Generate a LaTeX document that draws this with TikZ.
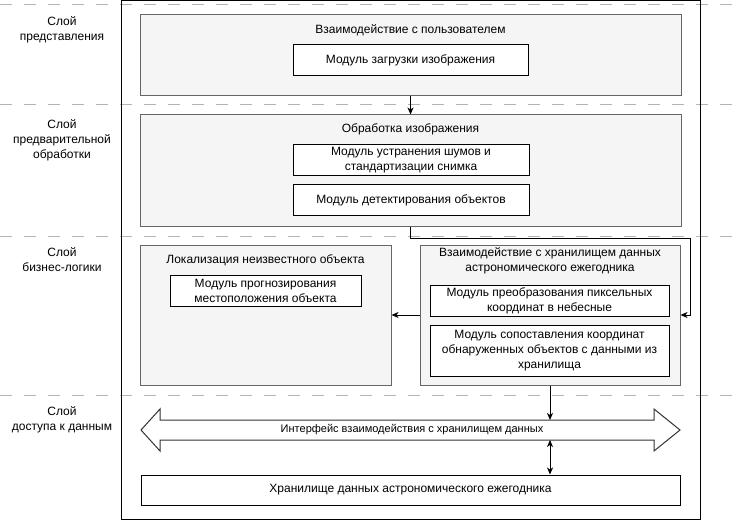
\documentclass[tikz,border=0pt]{standalone}
\usepackage{fontspec}
\setmainfont{Liberation Sans}
\usetikzlibrary{arrows.meta,calc}
\definecolor{grayfill}{HTML}{F5F5F5}
\definecolor{graydraw}{HTML}{666666}
\definecolor{dashgray}{HTML}{B3B3B3}
\newcommand\rbox[7]{\node[#2, minimum width={(#5)-(#3)}, minimum height={(#6)-(#4)}] (#1) at ({((#3)+(#5))/2},{((#4)+(#6))/2}) {#7};}
\tikzset{
  fnt/.style={font=\fontsize{12}{15}\selectfont},
  whitebox/.style={draw=black, fill=white, line width=1pt, inner sep=0pt, align=center, fnt},
  groupbox/.style={draw=graydraw, fill=grayfill, line width=1pt, inner sep=0pt},
  framebox/.style={draw=black, line width=1pt, inner sep=0pt},
  lbl/.style={align=center, inner sep=0pt, fnt},
  sepline/.style={draw=dashgray, line width=1pt, dash pattern=on 12pt off 12pt},
  conn/.style={line width=1pt, -{Stealth[length=7pt,width=6pt,inset=2pt]}},
  conntwo/.style={line width=1pt, {Stealth[length=7pt,width=6pt,inset=2pt]}-{Stealth[length=7pt,width=6pt,inset=2pt]}},
  flowarrow/.style={draw=black!80, fill=white, line width=1pt, line join=miter}
}
\begin{document}
\begin{tikzpicture}[x=1pt,y=-1pt]
\useasboundingbox (0,0) rectangle (743,521);
% layer separators
\foreach \yy in {5,105,236,395} \draw[sepline] (0,\yy) -- (743,\yy);
% frame
\rbox{frame}{framebox}{121}{1}{700}{519}{}
% layer labels
\node[lbl] (l1) at (62,30) {Слой\\представления};
\node[lbl] (l2) at (62,140) {Слой\\предварительной\\обработки};
\node[lbl] (l3) at (62,260) {Слой\\бизнес-логики};
\node[lbl] (l4) at (62,420) {Слой\\доступа к данным};
% presentation layer
\rbox{box1}{groupbox}{140}{15}{681}{96}{}
\node[lbl] (t1) at (410.5,30) {Взаимодействие с пользователем};
\rbox{m1}{whitebox}{293}{45}{528}{76}{Модуль загрузки изображения}
% preprocessing layer
\rbox{box2}{groupbox}{140}{115}{681}{226}{}
\node[lbl] (t2) at (410.5,129) {Обработка изображения};
\rbox{m2a}{whitebox}{293}{145}{529}{176}{Модуль устранения шумов и\\стандартизации снимка}
\rbox{m2b}{whitebox}{293}{185}{529}{216}{Модуль детектирования объектов}
% business logic layer
\rbox{box3}{groupbox}{140}{245}{391}{385}{}
\node[lbl] (t3) at (265.5,260) {Локализация неизвестного объекта};
\rbox{m3}{whitebox}{170}{275}{361}{306}{Модуль прогнозирования\\местоположения объекта}
\rbox{box4}{groupbox}{420}{245}{680}{385}{}
\node[lbl] (t4) at (550,260.5) {Взаимодействие с хранилищем данных\\астрономического ежегодника};
\rbox{m4a}{whitebox}{430}{285}{669}{316}{Модуль преобразования пиксельных\\координат в небесные}
\rbox{m4b}{whitebox}{430}{325}{669}{376}{Модуль сопоставления координат\\обнаруженных объектов с данными из\\хранилища}
% data access layer
\draw[flowarrow] (141,430) -- (160,409) -- (160,420) -- (654,420) -- (654,409) -- (680,430)
  -- (654,451) -- (654,440) -- (160,440) -- (160,451) -- cycle;
\node[lbl, font=\fontsize{11}{13}\selectfont] (iface) at (412,430) {Интерфейс взаимодействия с хранилищем данных};
\coordinate (ifacetop) at (550,420);
\coordinate (ifacebot) at (550,440);
\rbox{store}{whitebox}{141}{475}{680}{505}{Хранилище данных астрономического ежегодника}
% connectors
\draw[conn] (box1.south) -- (box2.north);
\coordinate (turn) at (690,238);
\draw[conn] (box2.south) |- (turn) |- (box4.east);
\draw[conn] (box4.west) -- (box3.east);
\draw[conn] (box4.south) -- (ifacetop);
\draw[conntwo] (ifacebot) -- (ifacebot |- store.north);
\end{tikzpicture}
\end{document}
